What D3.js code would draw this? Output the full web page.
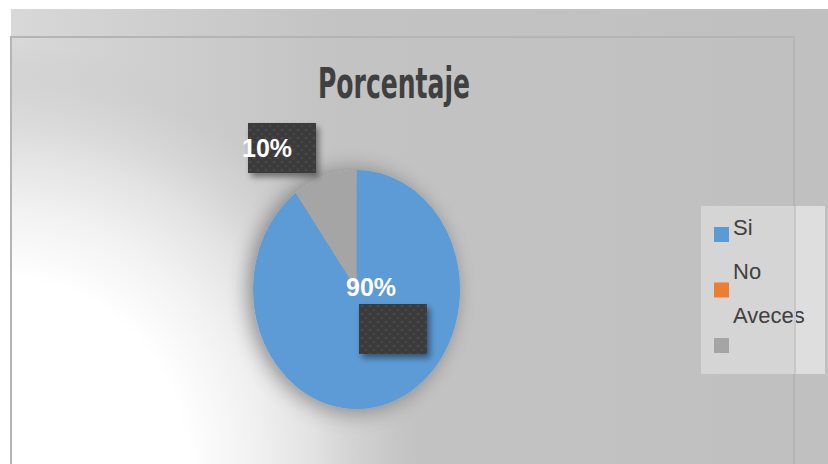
<!DOCTYPE html>
<html>
<head>
<meta charset="utf-8">
<title>Porcentaje</title>
<script src="https://d3js.org/d3.v7.min.js"></script>
<style>
  html, body { margin: 0; padding: 0; background: #fff; }
</style>
</head>
<body>
<svg id="chart"></svg>
<script>
// datos del gráfico
var categorias = ["Si", "No", "Aveces"];
var valores = [90, 0, 10];
var etiquetas = ["90%", "0%", "10%"];
var colores = ["#5b9bd5", "#ed7d31", "#a5a5a5"];

var W = 828, H = 464;
var svg = d3.select("#chart").attr("width", W).attr("height", H);
var defs = svg.append("defs");

// degradado blanco abajo a la izquierda
var rg = defs.append("radialGradient").attr("id", "bgGlow")
  .attr("gradientUnits", "userSpaceOnUse")
  .attr("cx", 0).attr("cy", 464).attr("r", 420);
rg.append("stop").attr("offset", "0%").attr("stop-color", "#ffffff");
rg.append("stop").attr("offset", "44%").attr("stop-color", "#ffffff");
rg.append("stop").attr("offset", "60%").attr("stop-color", "#f2f2f2");
rg.append("stop").attr("offset", "75%").attr("stop-color", "#e2e2e2");
rg.append("stop").attr("offset", "90%").attr("stop-color", "#d2d2d2").attr("stop-opacity", 0.6);
rg.append("stop").attr("offset", "100%").attr("stop-color", "#c8c8c8").attr("stop-opacity", 0);

var lg = defs.append("linearGradient").attr("id", "bgLin")
  .attr("x1", 0).attr("x2", 1).attr("y1", 0).attr("y2", 0);
lg.append("stop").attr("offset", "0%").attr("stop-color", "#d8d8d8");
lg.append("stop").attr("offset", "40%").attr("stop-color", "#c3c3c3");
lg.append("stop").attr("offset", "100%").attr("stop-color", "#c0c0c0");

// sombra
var sh = defs.append("filter").attr("id", "sombra")
  .attr("x", "-30%").attr("y", "-30%").attr("width", "160%").attr("height", "160%");
sh.append("feGaussianBlur").attr("in", "SourceAlpha").attr("stdDeviation", 10).attr("result", "b");
sh.append("feOffset").attr("in", "b").attr("dx", -5).attr("dy", 2).attr("result", "o");
sh.append("feComponentTransfer").attr("in", "o").attr("result", "o2")
  .append("feFuncA").attr("type", "linear").attr("slope", 0.4);
var m = sh.append("feMerge");
m.append("feMergeNode").attr("in", "o2");
m.append("feMergeNode").attr("in", "SourceGraphic");

var sh2 = defs.append("filter").attr("id", "sombraCaja")
  .attr("x", "-30%").attr("y", "-30%").attr("width", "160%").attr("height", "160%");
sh2.append("feGaussianBlur").attr("in", "SourceAlpha").attr("stdDeviation", 3).attr("result", "b");
sh2.append("feOffset").attr("in", "b").attr("dx", 3).attr("dy", 4).attr("result", "o");
sh2.append("feComponentTransfer").attr("in", "o").attr("result", "o2")
  .append("feFuncA").attr("type", "linear").attr("slope", 0.45);
var m2 = sh2.append("feMerge");
m2.append("feMergeNode").attr("in", "o2");
m2.append("feMergeNode").attr("in", "SourceGraphic");

// textura de las cajas
var pat = defs.append("pattern").attr("id", "textura")
  .attr("patternUnits", "userSpaceOnUse").attr("width", 8).attr("height", 8);
pat.append("rect").attr("width", 8).attr("height", 8).attr("fill", "#3a3a3a");
pat.append("circle").attr("cx", 2).attr("cy", 2).attr("r", 1.6).attr("fill", "#484848");
pat.append("circle").attr("cx", 6).attr("cy", 6).attr("r", 1.6).attr("fill", "#444444");

// fondo
svg.append("rect").attr("x", 11).attr("y", 9).attr("width", W - 11).attr("height", H - 9)
  .attr("fill", "url(#bgLin)");
svg.append("rect").attr("x", 11).attr("y", 9).attr("width", W - 11).attr("height", H - 9)
  .attr("fill", "url(#bgGlow)");

// marco
svg.append("path")
  .attr("d", "M11,464 V37 H794 V464")
  .attr("fill", "none").attr("stroke", "#b4b4b4").attr("stroke-width", 2);

// titulo
svg.append("text")
  .attr("x", 318).attr("y", 98)
  .attr("textLength", 152).attr("lengthAdjust", "spacingAndGlyphs")
  .style("font-family", "DejaVu Sans")
  .style("font-weight", "bold")
  .style("font-size", "42px")
  .attr("fill", "#404040")
  .text("Porcentaje");

// torta
var cx = 356.5, cy = 289.5, rx = 103.5, ry = 119.5;
var pie = d3.pie().sort(null).value(function(d) { return d; });
var arc = d3.arc().innerRadius(0).outerRadius(rx);
var arcos = pie(valores);

var gPie = svg.append("g")
  .attr("transform", "translate(" + cx + "," + cy + ") scale(1," + (ry / rx) + ")")
  .attr("filter", "url(#sombra)");
gPie.selectAll("path")
  .data(arcos)
  .enter()
  .append("path")
  .attr("d", arc)
  .attr("fill", function(d, i) { return colores[i]; });

// etiquetas de datos
var cajas = [
  {i: 0, bx: 359, by: 304, tx: 346, ty: 296},
  {i: 2, bx: 248, by: 123, tx: 242, ty: 157}
];
cajas.forEach(function(c) {
  svg.append("rect")
    .attr("x", c.bx).attr("y", c.by).attr("width", 68).attr("height", 50)
    .attr("fill", "url(#textura)")
    .attr("filter", "url(#sombraCaja)");
  svg.append("text")
    .attr("x", c.tx).attr("y", c.ty)
    .style("font-family", "Liberation Sans, Arial")
    .style("font-weight", "bold")
    .style("font-size", "25px")
    .attr("fill", "#ffffff")
    .text(etiquetas[c.i]);
});

// leyenda
svg.append("rect").attr("x", 701).attr("y", 206).attr("width", 124).attr("height", 168)
  .attr("fill", "#d5d5d5");
svg.append("rect").attr("x", 795).attr("y", 206).attr("width", 30).attr("height", 168)
  .attr("fill", "#dedede");

var leg = svg.selectAll(".leg")
  .data(categorias)
  .enter()
  .append("g")
  .attr("class", "leg");
leg.append("rect")
  .attr("x", 714)
  .attr("y", function(d, i) { return 227 + i * 55.5; })
  .attr("width", 15).attr("height", 15)
  .attr("fill", function(d, i) { return colores[i]; });
leg.append("text")
  .attr("x", 733)
  .attr("y", function(d, i) { return 235 + i * 44; })
  .style("font-family", "Liberation Sans, Arial")
  .style("font-size", "22px")
  .attr("fill", "#404040")
  .text(function(d) { return d; });

svg.append("line").attr("x1", 795).attr("x2", 795).attr("y1", 206).attr("y2", 374)
  .attr("stroke", "#c8c8c8").attr("stroke-width", 2);
</script>
</body>
</html>
